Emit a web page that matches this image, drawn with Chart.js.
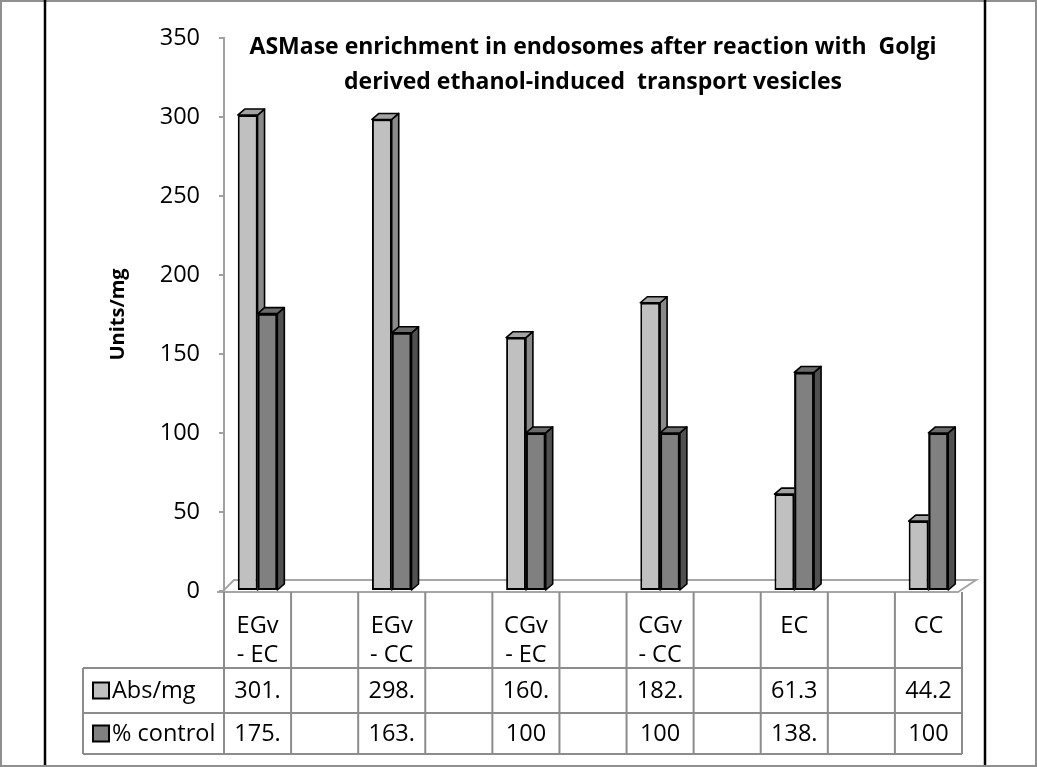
<!DOCTYPE html>
<html>
<head>
<meta charset="utf-8">
<script src="https://cdn.jsdelivr.net/npm/chart.js@4.4.0/dist/chart.umd.min.js"></script>
<style>
  html, body { margin: 0; padding: 0; background: #fff; }
  #wrap { width: 1037px; height: 767px; position: relative; }
</style>
</head>
<body>
<div id="wrap"><canvas id="c" width="1037" height="767"></canvas></div>
<script>
// ---- data ----
const categories = ["EGv - EC", "", "EGv - CC", "", "CGv - EC", "", "CGv - CC", "", "EC", "", "CC"];
const absPerMg = [301.2, null, 298.4, null, 160.3, null, 182.4, null, 61.3, null, 44.2];
const percentControl = [175.5, null, 163.4, null, 100, null, 100, null, 138.3, null, 100];
const seriesNames = ["Abs/mg", "% control"];
const yTicks = [0, 50, 100, 150, 200, 250, 300, 350];
const titleLines = ["ASMase enrichment in endosomes after reaction with  Golgi", "derived ethanol-induced  transport vesicles"];
const yTitle = "Units/mg";

const FONT = "'Open Sans', Lato, sans-serif";
const TXT = 23.5;
const frontColors = ["#c0c0c0", "#808080"];
const topColors = ["#a3a3a3", "#6b6b6b"];
const sideColors = ["#8a8a8a", "#505050"];

const labels = categories.map(c => c.includes(" - ") ? [c.split(" - ")[0], "- " + c.split(" - ")[1]] : c);
const seriesValues = [absPerMg, percentControl];

function cellText(v) {
  if (v === null || v === undefined) return "";
  const s = String(v);
  return s.length > 4 ? s.slice(0, 4) : s;
}

const deco = {
  id: 'deco',
  beforeDraw(chart) {
    const ctx = chart.ctx;
    const xs = chart.scales.x, ys = chart.scales.y;
    ctx.save();
    ctx.fillStyle = '#fff';
    ctx.fillRect(0, 0, chart.width, chart.height);
    // outer frame
    ctx.strokeStyle = '#8f8f8f';
    ctx.lineWidth = 2;
    ctx.strokeRect(1, 1, chart.width - 2, chart.height - 2);
    // black vertical lines
    ctx.strokeStyle = '#000';
    ctx.lineWidth = 2.5;
    ctx.beginPath();
    ctx.moveTo(45, 0); ctx.lineTo(45, chart.height - 2);
    ctx.moveTo(985, 0); ctx.lineTo(985, chart.height - 2);
    ctx.stroke();
    // floor
    const y0 = ys.getPixelForValue(0);
    ctx.strokeStyle = '#a6a6a6';
    ctx.lineWidth = 2;
    ctx.beginPath();
    ctx.moveTo(xs.left - 7, y0 + 1); ctx.lineTo(xs.right - 4, y0 + 1);
    ctx.lineTo(xs.right + 14, y0 - 11); ctx.lineTo(xs.left + 10, y0 - 11);
    ctx.lineTo(xs.left - 2, y0 + 1);
    ctx.stroke();
    ctx.restore();
  },
  afterDatasetsDraw(chart) {
    const ctx = chart.ctx;
    const dx = 7, dy = -6;
    ctx.save();
    ctx.lineWidth = 1.6;
    ctx.strokeStyle = '#000';
    ctx.lineJoin = 'round';
    chart.data.datasets.forEach((ds, di) => {
      const meta = chart.getDatasetMeta(di);
      meta.data.forEach((el, i) => {
        if (ds.data[i] === null) return;
        const {x, y, base, width} = el.getProps(['x', 'y', 'base', 'width'], true);
        const l = x - width / 2, r = x + width / 2;
        if (di > 0) {
          ctx.fillStyle = frontColors[di];
          ctx.fillRect(l, y, width, base - y);
          ctx.lineWidth = 2;
          ctx.strokeRect(l + 1, y + 1, width - 2, base - y - 2);
          ctx.lineWidth = 1.6;
        }
        // side face
        ctx.beginPath();
        ctx.moveTo(r, y); ctx.lineTo(r + dx, y + dy); ctx.lineTo(r + dx, base + dy); ctx.lineTo(r, base);
        ctx.closePath();
        ctx.fillStyle = sideColors[di]; ctx.fill(); ctx.stroke();
        // top face
        ctx.beginPath();
        ctx.moveTo(l, y); ctx.lineTo(l + dx, y + dy); ctx.lineTo(r + dx, y + dy); ctx.lineTo(r, y);
        ctx.closePath();
        ctx.fillStyle = topColors[di]; ctx.fill(); ctx.stroke();
      });
    });
    ctx.restore();
  },
  afterDraw(chart) {
    const ctx = chart.ctx;
    const xs = chart.scales.x, ys = chart.scales.y;
    const n = categories.length;
    const cw = (xs.right - xs.left) / n;
    const top = ys.getPixelForValue(0) + 1;
    const r1 = xs.bottom, r2 = r1 + 45, r3 = r2 + 41;
    const legLeft = 83;
    ctx.save();
    ctx.strokeStyle = '#8c8c8c';
    ctx.lineWidth = 2;
    ctx.beginPath();
    for (let i = 0; i <= n; i++) {
      const x = xs.left + i * cw;
      ctx.moveTo(x, top); ctx.lineTo(x, r3);
    }
    ctx.moveTo(legLeft, r1); ctx.lineTo(legLeft, r3);
    [r1, r2, r3].forEach(y => { ctx.moveTo(legLeft, y); ctx.lineTo(xs.right, y); });
    ctx.stroke();
    // values
    ctx.fillStyle = '#000';
    ctx.font = TXT + "px " + FONT;
    ctx.textAlign = 'center';
    ctx.textBaseline = 'middle';
    const rowMid = [(r1 + r2) / 2, (r2 + r3) / 2];
    seriesValues.forEach((vals, si) => {
      vals.forEach((v, i) => {
        const t = cellText(v);
        if (t) ctx.fillText(t, xs.getPixelForTick(i), rowMid[si] + 1);
      });
    });
    // legend keys
    ctx.textAlign = 'left';
    seriesNames.forEach((name, si) => {
      const cy = rowMid[si];
      ctx.fillStyle = frontColors[si];
      ctx.fillRect(93, cy - 8, 16, 16);
      ctx.strokeStyle = '#000';
      ctx.lineWidth = 2;
      ctx.strokeRect(93, cy - 8, 16, 16);
      ctx.fillStyle = '#000';
      ctx.fillText(name, 112, cy + 1);
    });
    ctx.restore();
  }
};

new Chart(document.getElementById('c'), {
  type: 'bar',
  data: {
    labels: labels,
    datasets: seriesNames.map((name, si) => ({
      label: name,
      data: seriesValues[si],
      backgroundColor: frontColors[si],
      borderColor: '#000',
      borderWidth: 2,
      borderSkipped: false,
      categoryPercentage: 0.59,
      barPercentage: 1.0
    }))
  },
  options: {
    responsive: false,
    animation: false,
    devicePixelRatio: 1,
    layout: { padding: { top: 0, left: 0, right: 75, bottom: 99 } },
    plugins: {
      legend: { display: false },
      tooltip: { enabled: false },
      title: {
        display: true,
        text: titleLines,
        fullSize: false,
        color: '#000',
        font: { family: FONT, size: 23, weight: 'bold', lineHeight: 1.52 },
        padding: { top: 30, bottom: -62 }
      }
    },
    scales: {
      x: {
        grid: { display: false, drawTicks: false },
        border: { display: false },
        ticks: {
          color: '#000',
          font: { family: FONT, size: TXT, lineHeight: 1.23 },
          padding: 21,
          maxRotation: 0,
          autoSkip: false
        },
        afterFit(scale) { scale.height = 77; }
      },
      y: {
        min: 0,
        max: 350,
        afterBuildTicks(scale) { scale.ticks = yTicks.map(v => ({ value: v })); },
        grid: { display: true, drawOnChartArea: false, drawTicks: true, tickLength: 5, color: '#a0a0a0', lineWidth: 2 },
        border: { display: true, color: '#a0a0a0', width: 2 },
        ticks: { color: '#000', font: { family: FONT, size: TXT }, padding: 19 },
        title: {
          display: true,
          text: yTitle,
          color: '#000',
          font: { family: FONT, size: 20, weight: 'bold' },
          padding: { top: 106, bottom: 0 }
        },
        afterFit(scale) { scale.width = 224; }
      }
    }
  },
  plugins: [deco]
});
</script>
</body>
</html>
